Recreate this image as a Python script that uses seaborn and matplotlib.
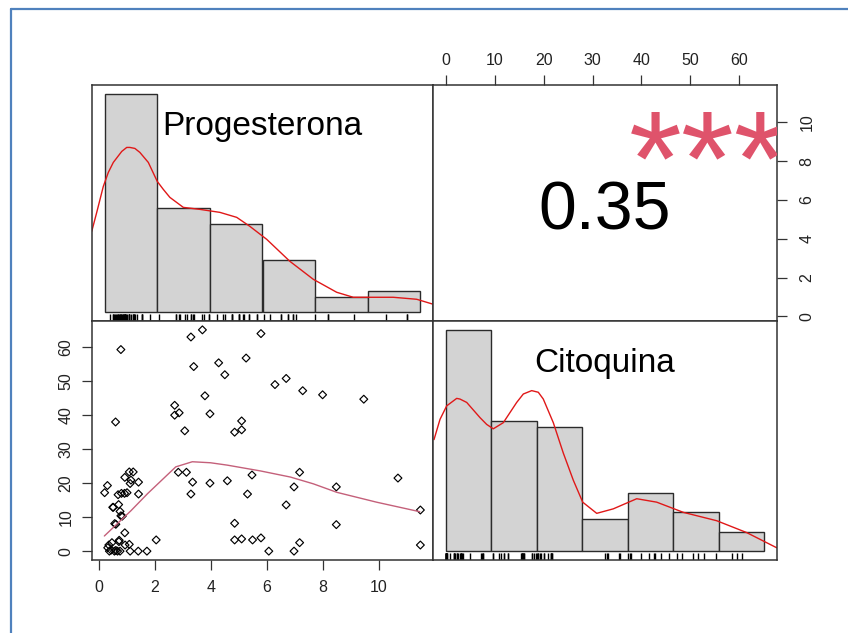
import numpy as np
import pandas as pd
import matplotlib
matplotlib.use("Agg")
import matplotlib.pyplot as plt
import seaborn as sns
from matplotlib.lines import Line2D

# ---------------- data ----------------
var_names = ["Progesterona", "Citoquina"]

progesterona = [3.70, 3.29, 5.79, 0.79, 5.26, 3.39, 4.28, 4.50, 6.29, 6.69,
                7.28, 7.99, 9.46, 3.79, 2.71, 2.71, 2.87, 3.97, 3.07, 0.60,
                5.10, 5.10, 4.85, 2.84, 3.13, 3.35, 3.29, 3.97, 4.59, 5.47,
                5.31, 6.97, 7.17, 6.69, 8.48, 8.48, 10.68, 11.48, 11.48, 4.85,
                4.85, 5.10, 5.49, 5.79, 6.07, 6.97, 7.17, 2.05, 0.21, 0.31,
                0.52, 0.71, 0.57, 0.69, 0.81, 0.92, 1.01, 0.76, 0.84, 0.93,
                1.09, 1.23, 1.12, 1.15, 1.42, 1.42, 0.93, 0.36, 0.47, 0.38,
                0.56, 0.67, 0.76, 0.72, 0.94, 1.12, 1.41, 1.72, 0.32, 0.44,
                0.61, 1.09, 0.73, 0.61, 0.79, 0.50]
citoquina = [65.1, 63.0, 64.0, 59.3, 56.8, 54.3, 55.4, 51.9, 49.0, 50.8,
             47.2, 46.0, 44.7, 45.7, 42.9, 40.0, 40.7, 40.4, 35.4, 38.0,
             38.3, 35.7, 35.0, 23.2, 23.2, 20.3, 16.8, 20.0, 20.7, 22.4,
             16.8, 18.9, 23.2, 13.6, 18.9, 7.8, 21.5, 12.1, 1.8, 8.2,
             3.3, 3.6, 3.3, 3.9, 0.0, 0.0, 2.5, 3.3, 17.2, 19.3,
             12.9, 13.7, 8.1, 16.6, 17.0, 17.0, 17.2, 11.7, 10.3, 21.7,
             23.3, 23.3, 19.9, 20.9, 20.3, 16.8, 5.4, 1.8, 2.5, 0.0,
             0.0, 0.0, 0.0, 2.8, 1.8, 0.0, 0.0, 0.0, 1.0, 0.3,
             0.2, 2.0, 3.2, 7.9, 10.4, 12.9]

prog_breaks = [0, 2, 4, 6, 8, 10, 12]
prog_counts = [42, 20, 17, 10, 3, 4]
cito_breaks = [0, 10, 20, 30, 40, 50, 60, 70]
cito_counts = [34, 20, 19, 5, 9, 6, 3]

prog_kde_x = [-0.49, -0.30, -0.05, 0.14, 0.33, 0.65, 0.84, 0.96, 1.15, 1.34,
              1.66, 2.00, 2.23, 2.48, 2.99, 3.62, 4.38, 5.02, 5.52, 6.16,
              7.04, 7.93, 8.82, 9.45, 10.04, 10.97, 11.86, 12.49]
prog_kde_y = [0.081, 0.100, 0.126, 0.140, 0.150, 0.161, 0.165, 0.165, 0.164, 0.160,
              0.150, 0.131, 0.123, 0.115, 0.105, 0.103, 0.100, 0.095, 0.086, 0.073,
              0.051, 0.033, 0.020, 0.015, 0.015, 0.015, 0.013, 0.008]

cito_kde_x = [-2.58, -1.26, 0.21, 2.41, 3.13, 4.61, 7.53, 9.00, 10.45, 12.65,
              15.59, 17.05, 18.89, 20.34, 21.44, 23.64, 24.74, 25.84, 26.94, 28.03,
              30.10, 33.18, 36.82, 41.97, 46.36, 52.21, 59.55, 66.14, 72.74]
cito_kde_y = [0.01785, 0.02109, 0.02325, 0.02445, 0.02434, 0.02380, 0.02137, 0.02028,
              0.01958, 0.02056, 0.02380, 0.02515, 0.02569, 0.02543, 0.02434, 0.02056,
              0.01812, 0.01569, 0.01352, 0.01136, 0.00784, 0.00605, 0.00677, 0.00839,
              0.00784, 0.00621, 0.00487, 0.00297, 0.00054]

smooth_x = [0.20, 1.15, 1.74, 2.75, 3.34, 3.99, 4.59, 5.77, 6.84, 7.66, 8.50, 9.92, 11.46]
smooth_y = [4.46, 11.9, 16.9, 24.8, 26.3, 26.0, 25.3, 23.6, 21.8, 19.8, 17.3, 14.4, 11.6]

corr_label = "0.35"
signif_label = "***"
prog_ticks = [0, 2, 4, 6, 8, 10]
cito_ticks = [0, 10, 20, 30, 40, 50, 60]

# ---------------- styling ----------------
sns.set_style("white")
plt.rcParams["font.family"] = ["Liberation Sans", "DejaVu Sans"]

W, H = 848, 633
fig = plt.figure(figsize=(W / 100, H / 100), dpi=100)
fig.patch.set_facecolor("white")

FRAME = "#333333"
TICKC = "#333333"


def rect(x0, y0, x1, y1):
    return [x0 / W, 1 - y1 / H, (x1 - x0) / W, (y1 - y0) / H]


xs = [92, 433, 777]
ys = [85, 321, 560]

ax11 = fig.add_axes(rect(xs[0], ys[0], xs[1], ys[1]))
ax12 = fig.add_axes(rect(xs[1], ys[0], xs[2], ys[1]))
ax21 = fig.add_axes(rect(xs[0], ys[1], xs[1], ys[2]))
ax22 = fig.add_axes(rect(xs[1], ys[1], xs[2], ys[2]))

for ax in (ax11, ax12, ax21, ax22):
    ax.set_facecolor("white")
    for sp in ax.spines.values():
        sp.set_visible(True)
        sp.set_color(FRAME)
        sp.set_linewidth(1.1)


def rlim(vals):
    lo, hi = min(vals), max(vals)
    pad = 0.04 * (hi - lo)
    return lo - pad, hi + pad


p_lim = rlim(progesterona)
c_lim = rlim(citoquina)


def hist_panel(ax, breaks, counts, kx, ky, data, name):
    b = np.asarray(breaks, float)
    cnt = np.asarray(counts, float)
    widths = np.diff(b)
    dens = cnt / (cnt.sum() * widths)
    centers = b[:-1] + widths / 2
    df = pd.DataFrame({"x": centers, "w": dens})
    sns.histplot(data=df, x="x", weights="w", bins=list(breaks), stat="count",
                 color="#D3D3D3", edgecolor="#2b2b2b", linewidth=1.0,
                 alpha=1, ax=ax)
    sns.lineplot(x=kx, y=ky, color="#E01818", linewidth=1.0,
                 estimator=None, ax=ax)
    sns.rugplot(x=data, height=0.03, color="black", linewidth=1.0, ax=ax)
    ax.set_xlim(*rlim(breaks))
    m = dens.max()
    ax.set_ylim(-0.04 * m, 1.04 * m)
    ax.set_xticks([])
    ax.set_yticks([])
    ax.set_xlabel("")
    ax.set_ylabel("")
    ax.text(0.5, 0.788, name, transform=ax.transAxes, ha="center",
            va="baseline", fontsize=24, color="black")


hist_panel(ax11, prog_breaks, prog_counts, prog_kde_x, prog_kde_y,
           progesterona, var_names[0])
hist_panel(ax22, cito_breaks, cito_counts, cito_kde_x, cito_kde_y,
           citoquina, var_names[1])

# scatter panel
sns.scatterplot(x=progesterona, y=citoquina, marker="D", s=16,
                facecolor="none", edgecolor="black", linewidth=0.85, ax=ax21)
sns.lineplot(x=smooth_x, y=smooth_y, color="#C4607A", linewidth=1.0,
             estimator=None, ax=ax21)
ax21.set_xlim(*p_lim)
ax21.set_ylim(*c_lim)
ax21.set_xticks(prog_ticks)
ax21.set_yticks(cito_ticks)
ax21.tick_params(axis="x", direction="out", length=7.2, width=0.9,
                 color=TICKC, labelsize=11.5, labelcolor="#222222", pad=7,
                 bottom=True)
ax21.tick_params(axis="y", direction="out", length=7.2, width=0.9,
                 color=TICKC, labelsize=11.5, labelcolor="#222222", pad=6,
                 left=True, labelrotation=90)
for lab in ax21.get_yticklabels():
    lab.set_va("center")

# correlation panel
ax12.set_xlim(*c_lim)
ax12.set_ylim(*p_lim)
ax12.xaxis.tick_top()
ax12.yaxis.tick_right()
ax12.set_xticks(cito_ticks)
ax12.set_yticks(prog_ticks)
ax12.tick_params(axis="x", direction="out", length=7.2, width=0.9,
                 color=TICKC, labelsize=11.5, labelcolor="#222222", pad=5,
                 top=True, bottom=False)
ax12.tick_params(axis="y", direction="out", length=7.2, width=0.9,
                 color=TICKC, labelsize=11.5, labelcolor="#222222", pad=9,
                 right=True, left=False, labelrotation=90)
for lab in ax12.get_yticklabels():
    lab.set_va("center")
ax12.text(0.5, 0.389, corr_label, transform=ax12.transAxes, ha="center",
          va="baseline", fontsize=49, color="black")
ax12.text(0.8, 0.495, signif_label, transform=ax12.transAxes, ha="center",
          va="baseline", fontsize=98, color="#DF536B", clip_on=True)

# blue page frame (left and top edges)
blue = "#4F81BD"
fig.add_artist(Line2D([11 / W, 11 / W], [0, 1 - 9 / H], transform=fig.transFigure,
                      color=blue, linewidth=1.6))
fig.add_artist(Line2D([11 / W, 1], [1 - 9 / H, 1 - 9 / H], transform=fig.transFigure,
                      color=blue, linewidth=1.6))

fig.savefig("out.png", dpi=100, facecolor="white")
